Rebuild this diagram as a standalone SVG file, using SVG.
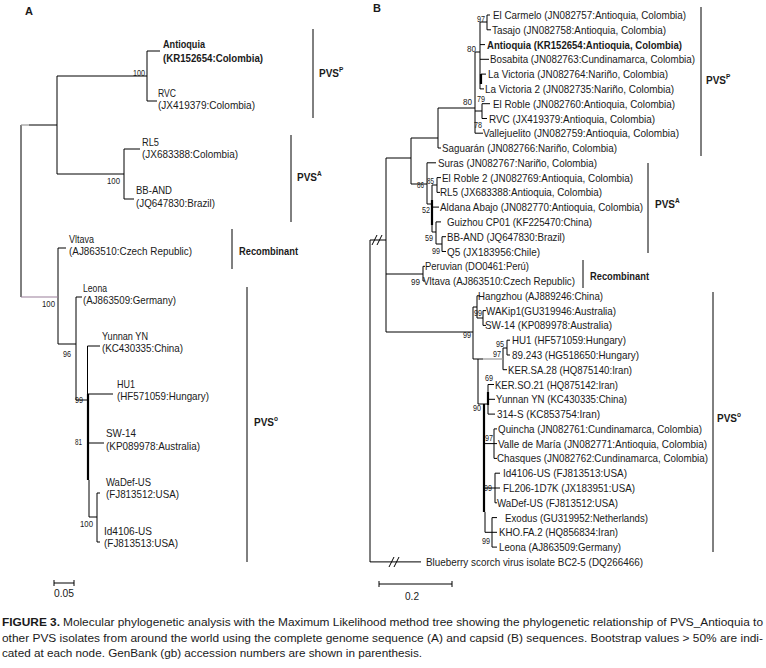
<svg xmlns="http://www.w3.org/2000/svg" width="766" height="668" viewBox="0 0 766 668">
<style>
text{font-family:"Liberation Sans",Arial,sans-serif;fill:#1a1a1a}
.t{font-size:11px}
.b{font-size:11px;font-weight:bold}
.p{font-size:10px;font-weight:bold}
.s{font-size:9px}
.sup{font-size:6.5px;font-weight:bold}
.cap{font-size:11.5px}
.ln{stroke:#000;stroke-width:1;fill:none}
.tk{stroke:#000;stroke-width:2.2;fill:none}
.gr{stroke:#999;stroke-width:1.2;fill:none}
.pu{stroke:#9a7f9a;stroke-width:1.2;fill:none}
</style>
<rect width="766" height="668" fill="#fff"/>
<text class="b" x="25" y="15">A</text>
<text class="b" x="373" y="12">B</text>

<g id="connectors">
<!-- Panel A -->
<path class="ln" d="M21,125V297M29,125H57M57,76V174M57,76H147M147,51V101M147,51H160M147,101H157M57,174H124M124,149V199M124,149H140M124,199H134M58,248V344M58,248H66M58,344H76M76,297V400M76,297H82M76,400H87M87.5,346V394M87.5,346H100M87.5,394H113M89,480V517M89,443H104M89,517H97M97,493V542M97,493H100M97,542H100"/>
<path class="gr" d="M21,125H29"/>
<path class="pu" d="M21,297H58"/>
<path class="tk" d="M88,394V480"/>
<path class="ln" d="M54,583H74M54,580V586M74,580V586"/>
<!-- Panel B: PVS P -->
<path class="ln" d="M480,22H487M487,15V29.8M487,15H490M487,29.8H491M480,22V89M480,44.6H485M480,59.3H489M481,74.1H486M480,88.9H484M475,52H480M475,52V133.2M475,111H482M482,103.7V118.5M482,103.7H490M482,118.5H487M475,133.2H483M438,108H475M438,108V148M438,148H441M411,138H438M411,138V184"/>
<path class="tk" d="M481,74V84"/>
<!-- Panel B: PVS A -->
<path class="ln" d="M411,184H427M427,162.8V204M427,162.8H436M427,204H432M432,185V232M432,185H437M437,177.6V192.4M437,177.6H441M437,192.4H440M432,207.1H439M432,232H436M436,221.9V244M436,221.9H441M436,244H442M442,236.7V251.5M442,236.7H446M442,251.5H446"/>
<path class="tk" d="M432,200V225"/>
<!-- Panel B: root / recombinant -->
<path class="ln" d="M386,158H411M386,158V332M386,274H423M423,266.3V281M423,266.3H425M423,281H425M370,240H386M370,240V562M370,561.9H421"/>
<path class="ln" d="M372,245L377,235M377,245L382,235M389,567L394,557M394,567L399,557"/>
<!-- Panel B: PVS O -->
<path class="ln" d="M386,332H473M473,307V359M473,307H477M477,295.8V318M477,295.8H480M477,318H483M483,310.6V325.4M483,310.6H486M483,325.4H486M473,359H483M478,359V404M478,404H488M488,384.5V414.1M488,384.5H494M488,399.3H495M488,414.1H495M485,512V532.3M484,443.6H494M494,428.9V458.4M494,428.9H497M494,443.6H497M494,458.4H497M484,488H495M495,473.2V502.8M495,473.2H500M495,488H500M495,502.8H497M485,532.3H492M492,517.6V547.1M492,517.6H497M492,532.3H497M492,547.1H497M503,348V369.7M503,348H507M507,340.2V355M507,340.2H510M507,355H510M503,369.7H507"/>
<path class="gr" d="M483,359H503"/>
<path class="tk" d="M488,392V405M484,404V512"/>
<path class="ln" d="M379,584H452M379,581V587M452,581V587"/>
<!-- brackets -->
<path class="ln" d="M313,29V118M291,135V222M232,229V269M247,287V562M701,7V156M648,163V253M583,260V288M713,292V552"/>
</g>

<!-- Panel A nodes -->
<g id="a-antioquia"><text class="b" x="163" y="48" textLength="42" lengthAdjust="spacingAndGlyphs">Antioquia</text><text class="b" x="163" y="62" textLength="100" lengthAdjust="spacingAndGlyphs">(KR152654:Colombia)</text></g>
<g id="a-rvc"><text class="t" x="158" y="97" textLength="18" lengthAdjust="spacingAndGlyphs">RVC</text><text class="t" x="158" y="109" textLength="97" lengthAdjust="spacingAndGlyphs">(JX419379:Colombia)</text></g>
<g id="a-rl5"><text class="t" x="142" y="146" textLength="17" lengthAdjust="spacingAndGlyphs">RL5</text><text class="t" x="142" y="158" textLength="96" lengthAdjust="spacingAndGlyphs">(JX683388:Colombia)</text></g>
<g id="a-bband"><text class="t" x="136" y="194" textLength="36" lengthAdjust="spacingAndGlyphs">BB-AND</text><text class="t" x="136" y="207" textLength="79" lengthAdjust="spacingAndGlyphs">(JQ647830:Brazil)</text></g>
<g id="a-vltava"><text class="t" x="69" y="243" textLength="25" lengthAdjust="spacingAndGlyphs">Vltava</text><text class="t" x="69" y="255" textLength="123" lengthAdjust="spacingAndGlyphs">(AJ863510:Czech Republic)</text></g>
<g id="a-leona"><text class="t" x="83" y="292" textLength="24" lengthAdjust="spacingAndGlyphs">Leona</text><text class="t" x="83" y="304" textLength="93" lengthAdjust="spacingAndGlyphs">(AJ863509:Germany)</text></g>
<g id="a-yunnan"><text class="t" x="102" y="340" textLength="46" lengthAdjust="spacingAndGlyphs">Yunnan YN</text><text class="t" x="102" y="352" textLength="81" lengthAdjust="spacingAndGlyphs">(KC430335:China)</text></g>
<g id="a-hu1"><text class="t" x="117" y="388" textLength="18" lengthAdjust="spacingAndGlyphs">HU1</text><text class="t" x="117" y="400" textLength="92" lengthAdjust="spacingAndGlyphs">(HF571059:Hungary)</text></g>
<g id="a-sw14"><text class="t" x="106" y="437" textLength="30" lengthAdjust="spacingAndGlyphs">SW-14</text><text class="t" x="106" y="450" textLength="94" lengthAdjust="spacingAndGlyphs">(KP089978:Australia)</text></g>
<g id="a-wadef"><text class="t" x="106" y="486" textLength="45" lengthAdjust="spacingAndGlyphs">WaDef-US</text><text class="t" x="106" y="498" textLength="73" lengthAdjust="spacingAndGlyphs">(FJ813512:USA)</text></g>
<g id="a-id4106"><text class="t" x="104" y="535" textLength="48" lengthAdjust="spacingAndGlyphs">Id4106-US</text><text class="t" x="104" y="547" textLength="74" lengthAdjust="spacingAndGlyphs">(FJ813513:USA)</text></g>
<g id="a-boot">
<text class="s" x="133" y="76" textLength="12" lengthAdjust="spacingAndGlyphs">100</text>
<text class="s" x="107" y="184" textLength="13" lengthAdjust="spacingAndGlyphs">100</text>
<text class="s" x="42" y="307" textLength="13" lengthAdjust="spacingAndGlyphs">100</text>
<text class="s" x="63" y="357" textLength="8" lengthAdjust="spacingAndGlyphs">96</text>
<text class="s" x="75" y="403" textLength="8" lengthAdjust="spacingAndGlyphs">99</text>
<text class="s" x="75" y="445" textLength="7" lengthAdjust="spacingAndGlyphs">81</text>
<text class="s" x="80" y="527" textLength="13" lengthAdjust="spacingAndGlyphs">100</text>
</g>
<g id="a-scale"><text class="t" x="54" y="597" textLength="20" lengthAdjust="spacingAndGlyphs">0.05</text></g>
<g id="a-pvsp"><text class="p" x="319" y="77">PVS<tspan class="sup" dy="-5">P</tspan></text></g>
<g id="a-pvsa"><text class="p" x="297" y="181">PVS<tspan class="sup" dy="-5">A</tspan></text></g>
<g id="a-recomb"><text class="b" x="239" y="255" textLength="59" lengthAdjust="spacingAndGlyphs">Recombinant</text></g>
<g id="a-pvso"><text class="p" x="254" y="426">PVS<tspan class="sup" dy="-5">o</tspan></text></g>

<!-- Panel B nodes -->
<g id="b-tips">
<text class="t" x="493" y="19" textLength="193" lengthAdjust="spacingAndGlyphs">El Carmelo (JN082757:Antioquia, Colombia)</text>
<text class="t" x="492" y="33.8" textLength="174" lengthAdjust="spacingAndGlyphs">Tasajo (JN082758:Antioquia, Colombia)</text>
<text class="b" x="487" y="48.6" textLength="195" lengthAdjust="spacingAndGlyphs">Antioquia (KR152654:Antioquia, Colombia)</text>
<text class="t" x="490" y="63.3" textLength="205" lengthAdjust="spacingAndGlyphs">Bosabita (JN082763:Cundinamarca, Colombia)</text>
<text class="t" x="488" y="78.1" textLength="180" lengthAdjust="spacingAndGlyphs">La Victoria (JN082764:Nariño, Colombia)</text>
<text class="t" x="485" y="92.9" textLength="189" lengthAdjust="spacingAndGlyphs">La Victoria 2 (JN082735:Nariño, Colombia)</text>
<text class="t" x="493" y="107.7" textLength="182" lengthAdjust="spacingAndGlyphs">El Roble (JN082760:Antioquia, Colombia)</text>
<text class="t" x="489" y="122.5" textLength="166" lengthAdjust="spacingAndGlyphs">RVC (JX419379:Antioquia, Colombia)</text>
<text class="t" x="483" y="137.2" textLength="196" lengthAdjust="spacingAndGlyphs">Vallejuelito (JN082759:Antioquia, Colombia)</text>
<text class="t" x="442" y="152" textLength="175" lengthAdjust="spacingAndGlyphs">Saguarán (JN082766:Nariño, Colombia)</text>
<text class="t" x="438" y="166.8" textLength="159" lengthAdjust="spacingAndGlyphs">Suras (JN082767:Nariño, Colombia)</text>
<text class="t" x="442" y="181.6" textLength="191" lengthAdjust="spacingAndGlyphs">El Roble 2 (JN082769:Antioquia, Colombia)</text>
<text class="t" x="440" y="196.4" textLength="162" lengthAdjust="spacingAndGlyphs">RL5 (JX683388:Antioquia, Colombia)</text>
<text class="t" x="440" y="211.1" font-size="10" textLength="203" lengthAdjust="spacingAndGlyphs">Aldana Abajo (JN082770:Antioquia, Colombia)</text>
<text class="t" x="447" y="225.9" textLength="145" lengthAdjust="spacingAndGlyphs">Guizhou CP01 (KF225470:China)</text>
<text class="t" x="447" y="240.7" textLength="118" lengthAdjust="spacingAndGlyphs">BB-AND (JQ647830:Brazil)</text>
<text class="t" x="447" y="255.5" textLength="93" lengthAdjust="spacingAndGlyphs">Q5 (JX183956:Chile)</text>
<text class="t" x="425" y="270.3" textLength="104" lengthAdjust="spacingAndGlyphs">Peruvian (DO0461:Perú)</text>
<text class="t" x="423" y="285" textLength="152" lengthAdjust="spacingAndGlyphs">Vltava (AJ863510:Czech Republic)</text>
<text class="t" x="478" y="299.8" textLength="125" lengthAdjust="spacingAndGlyphs">Hangzhou (AJ889246:China)</text>
<text class="t" x="486" y="314.6" textLength="130" lengthAdjust="spacingAndGlyphs">WAKip1(GU319946:Australia)</text>
<text class="t" x="485" y="329.4" textLength="127" lengthAdjust="spacingAndGlyphs">SW-14 (KP089978:Australia)</text>
<text class="t" x="512" y="344.2" textLength="114" lengthAdjust="spacingAndGlyphs">HU1 (HF571059:Hungary)</text>
<text class="t" x="512" y="359" textLength="127" lengthAdjust="spacingAndGlyphs">89.243 (HG518650:Hungary)</text>
<text class="t" x="508" y="373.7" textLength="124" lengthAdjust="spacingAndGlyphs">KER.SA.28 (HQ875140:Iran)</text>
<text class="t" x="495" y="388.5" textLength="123" lengthAdjust="spacingAndGlyphs">KER.SO.21 (HQ875142:Iran)</text>
<text class="t" x="496" y="403.3" textLength="131" lengthAdjust="spacingAndGlyphs">Yunnan YN (KC430335:China)</text>
<text class="t" x="497" y="418.1" textLength="103" lengthAdjust="spacingAndGlyphs">314-S (KC853754:Iran)</text>
<text class="t" x="498" y="432.9" textLength="204" lengthAdjust="spacingAndGlyphs">Quincha (JN082761:Cundinamarca, Colombia)</text>
<text class="t" x="498" y="447.6" textLength="209" lengthAdjust="spacingAndGlyphs">Valle de María (JN082771:Antioquia, Colombia)</text>
<text class="t" x="497" y="462.4" textLength="211" lengthAdjust="spacingAndGlyphs">Chasques (JN082762:Cundinamarca, Colombia)</text>
<text class="t" x="503" y="477.2" textLength="124" lengthAdjust="spacingAndGlyphs">Id4106-US (FJ813513:USA)</text>
<text class="t" x="503" y="492" textLength="132" lengthAdjust="spacingAndGlyphs">FL206-1D7K (JX183951:USA)</text>
<text class="t" x="497" y="506.8" textLength="121" lengthAdjust="spacingAndGlyphs">WaDef-US (FJ813512:USA)</text>
<text class="t" x="505" y="521.6" textLength="143" lengthAdjust="spacingAndGlyphs">Exodus (GU319952:Netherlands)</text>
<text class="t" x="499" y="536.3" textLength="119" lengthAdjust="spacingAndGlyphs">KHO.FA.2 (HQ856834:Iran)</text>
<text class="t" x="499" y="551.1" textLength="122" lengthAdjust="spacingAndGlyphs">Leona (AJ863509:Germany)</text>
<text class="t" x="426" y="566" textLength="217" lengthAdjust="spacingAndGlyphs">Blueberry scorch virus isolate BC2-5 (DQ266466)</text>
</g>
<g id="b-boot">
<text class="s" x="477" y="22" textLength="8" lengthAdjust="spacingAndGlyphs">97</text>
<text class="s" x="467" y="52" textLength="9" lengthAdjust="spacingAndGlyphs">80</text>
<text class="s" x="463" y="105" textLength="9" lengthAdjust="spacingAndGlyphs">80</text>
<text class="s" x="477" y="102" textLength="8" lengthAdjust="spacingAndGlyphs">79</text>
<text class="s" x="474" y="128" textLength="8" lengthAdjust="spacingAndGlyphs">78</text>
<text class="s" x="417" y="188" textLength="7" lengthAdjust="spacingAndGlyphs">86</text>
<text class="s" x="427" y="184" textLength="7" lengthAdjust="spacingAndGlyphs">85</text>
<text class="s" x="422" y="213" textLength="8" lengthAdjust="spacingAndGlyphs">52</text>
<text class="s" x="425" y="241" textLength="8" lengthAdjust="spacingAndGlyphs">59</text>
<text class="s" x="432" y="254" textLength="8" lengthAdjust="spacingAndGlyphs">99</text>
<text class="s" x="411" y="285" textLength="9" lengthAdjust="spacingAndGlyphs">99</text>
<text class="s" x="474" y="316" textLength="8" lengthAdjust="spacingAndGlyphs">99</text>
<text class="s" x="463" y="338" textLength="8" lengthAdjust="spacingAndGlyphs">99</text>
<text class="s" x="496" y="347" textLength="8" lengthAdjust="spacingAndGlyphs">95</text>
<text class="s" x="493" y="357" textLength="8" lengthAdjust="spacingAndGlyphs">97</text>
<text class="s" x="485" y="381" textLength="8" lengthAdjust="spacingAndGlyphs">69</text>
<text class="s" x="473" y="411" textLength="8" lengthAdjust="spacingAndGlyphs">90</text>
<text class="s" x="485" y="441" textLength="8" lengthAdjust="spacingAndGlyphs">97</text>
<text class="s" x="484" y="491" textLength="8" lengthAdjust="spacingAndGlyphs">99</text>
<text class="s" x="482" y="544" textLength="8" lengthAdjust="spacingAndGlyphs">99</text>
</g>
<g id="b-scale"><text class="t" x="405" y="600" textLength="14" lengthAdjust="spacingAndGlyphs">0.2</text></g>
<g id="b-pvsp"><text class="p" x="706" y="84">PVS<tspan class="sup" dy="-5">P</tspan></text></g>
<g id="b-pvsa"><text class="p" x="655" y="208">PVS<tspan class="sup" dy="-5">A</tspan></text></g>
<g id="b-recomb"><text class="b" x="590" y="280" textLength="59" lengthAdjust="spacingAndGlyphs">Recombinant</text></g>
<g id="b-pvso"><text class="p" x="717" y="422">PVS<tspan class="sup" dy="-5">o</tspan></text></g>

<g id="caption">
<text class="cap" x="2" y="626" font-weight="bold" textLength="58" lengthAdjust="spacingAndGlyphs">FIGURE 3.</text>
<text class="cap" x="63" y="626" textLength="700" lengthAdjust="spacingAndGlyphs">Molecular phylogenetic analysis with the Maximum Likelihood method tree showing the phylogenetic relationship of PVS_Antioquia to</text>
<text class="cap" x="2" y="642" textLength="761" lengthAdjust="spacingAndGlyphs">other PVS isolates from around the world using the complete genome sequence (A) and capsid (B) sequences. Bootstrap values &gt; 50% are indi-</text>
<text class="cap" x="2" y="657" textLength="420" lengthAdjust="spacingAndGlyphs">cated at each node. GenBank (gb) accession numbers are shown in parenthesis.</text>
</g>
</svg>
